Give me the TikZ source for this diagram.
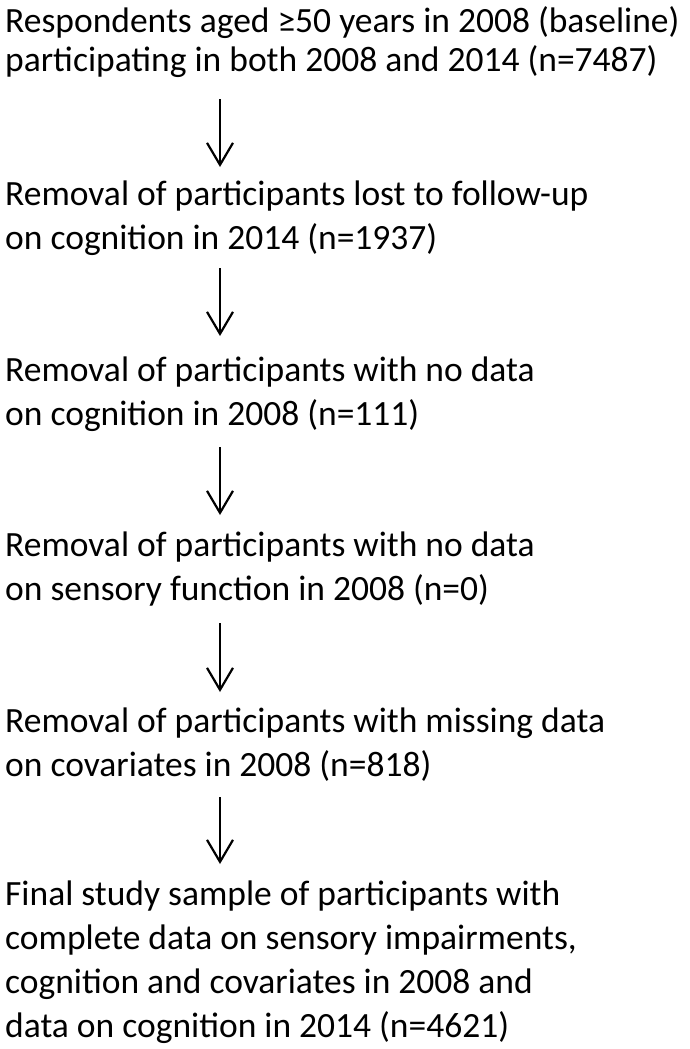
\documentclass[tikz,border=0pt]{standalone}
\usepackage{fontspec}
\setmainfont{Carlito}
\usetikzlibrary{arrows.meta}
\begin{document}
\begin{tikzpicture}[x=1pt,y=1pt,
  txt/.style={anchor=base west,inner sep=0pt,align=left,font=\fontsize{35.5}{44}\selectfont},
  arr/.style={line width=2.2pt,-{Straight Barb[length=22pt,width=26pt,line width=2.2pt]}}]
\useasboundingbox (0,0) rectangle (690,-1049);
\node[txt,font=\fontsize{35.5}{39}\selectfont] (b1) at (5,-71) {Respondents aged ≥50 years in 2008 (baseline)\\participating in both 2008 and 2014 (n=7487)};
\node[txt] (b2) at (5,-249) {Removal of participants lost to follow-up\\on cognition in 2014 (n=1937)};
\node[txt] (b3) at (5,-425) {Removal of participants with no data\\on cognition in 2008 (n=111)};
\node[txt] (b4) at (5,-600) {Removal of participants with no data\\on sensory function in 2008 (n=0)};
\node[txt] (b5) at (5,-776) {Removal of participants with missing data\\on covariates in 2008 (n=818)};
\node[txt] (b6) at (5,-1037) {Final study sample of participants with\\complete data on sensory impairments,\\cognition and covariates in 2008 and\\data on cognition in 2014 (n=4621)};
\coordinate (a1t) at (220,-99);  \coordinate (a1b) at (220,-167);
\coordinate (a2t) at (220,-268); \coordinate (a2b) at (220,-336);
\coordinate (a3t) at (220,-447); \coordinate (a3b) at (220,-515);
\coordinate (a4t) at (220,-623); \coordinate (a4b) at (220,-692);
\coordinate (a5t) at (220,-797); \coordinate (a5b) at (220,-864);
\draw[arr] (a1t) -- (a1b);
\draw[arr] (a2t) -- (a2b);
\draw[arr] (a3t) -- (a3b);
\draw[arr] (a4t) -- (a4b);
\draw[arr] (a5t) -- (a5b);
\end{tikzpicture}
\end{document}
